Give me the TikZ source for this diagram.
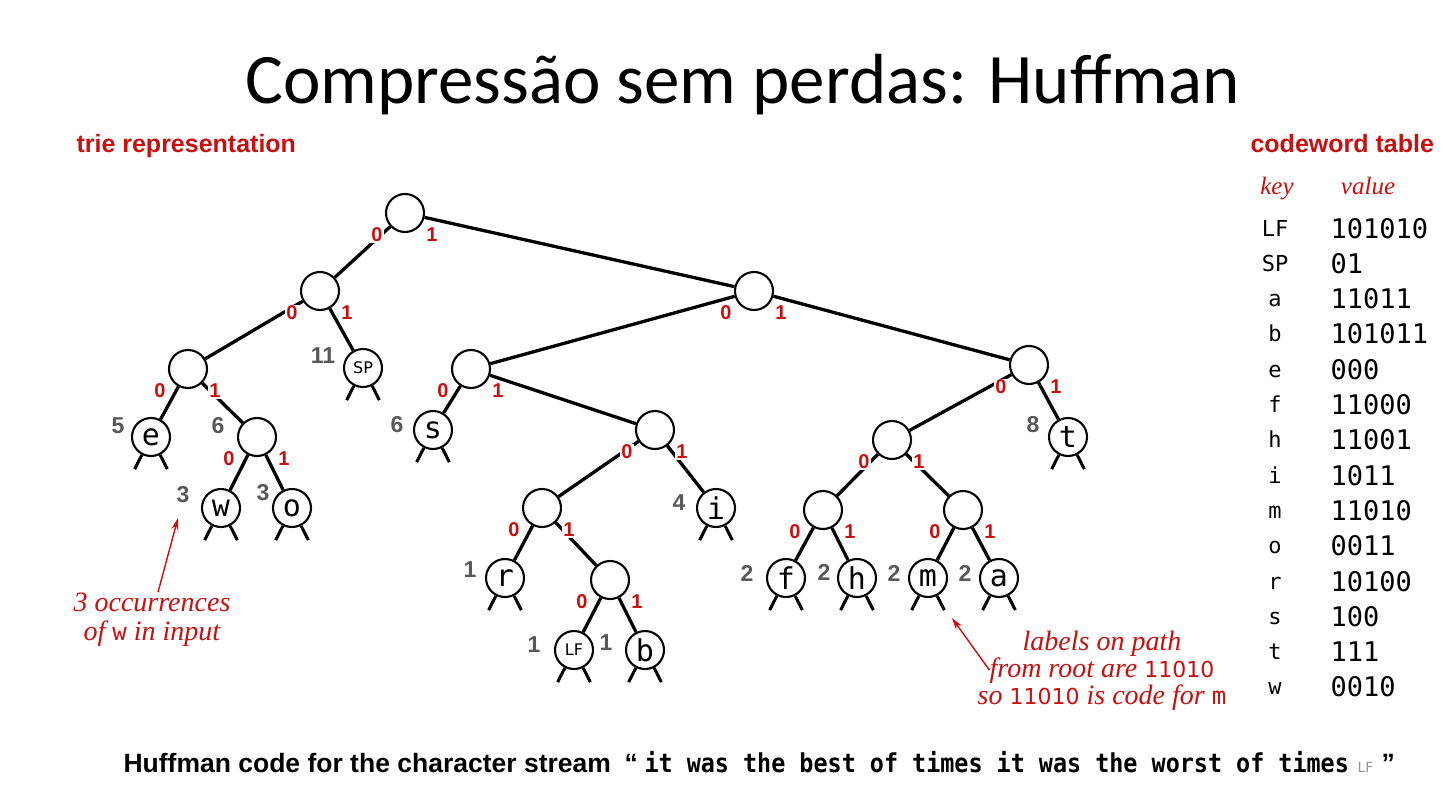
\documentclass[tikz,border=0pt]{standalone}
\usepackage{fontspec}
\setmainfont{Liberation Serif}
\setsansfont{DejaVu Sans}
\setmonofont{DejaVu Sans Mono}
\newfontfamily\titlefont{Carlito}
\newfontfamily\headfont{Liberation Sans}
\newfontfamily\streamfont[FakeStretch=0.9]{DejaVu Sans Mono}
\newfontfamily\bitfont{Liberation Sans}
\newfontfamily\notefont{Liberation Serif}
\usetikzlibrary{arrows.meta}

\definecolor{trired}{RGB}{200,16,16}
\definecolor{wtgray}{RGB}{88,88,88}
\definecolor{lfgray}{RGB}{150,150,150}

\newcommand\fsz[1]{\fontsize{#1}{#1}\selectfont}
% two short stubs under a leaf
\newcommand\legs[1]{%
  \draw[leg] (#1.-117) -- ++(-117:16pt);
  \draw[leg] (#1.-63) -- ++(-63:16pt);}
% 0 / 1 labels under an internal node
\newcommand\bits[1]{%
  \node[bit] (#1-zero) at ([shift={(-28,22)}]#1) {0};
  \node[bit] (#1-one) at ([shift={(27,22)}]#1) {1};}

\begin{document}
\begin{tikzpicture}[x=1pt,y=-1pt,
  knot/.style={circle,draw,line width=2.1pt,minimum size=38pt,inner sep=0pt,fill=white},
  sym/.style={knot,font=\ttfamily\fsz{30}},
  ctl/.style={knot,font=\sffamily\fsz{16}},
  edge/.style={line width=3.3pt},
  leg/.style={line width=3pt},
  bit/.style={font=\bitfont\bfseries\fsz{20},text=trired,fill=white,inner sep=1pt},
  wt/.style={font=\bitfont\bfseries\fsz{23},text=wtgray,inner sep=0pt},
  note/.style={font=\notefont\itshape\fsz{28},text=trired,inner sep=0pt,anchor=base},
  pointer/.style={draw=trired,line width=1.4pt,-{Stealth[length=12pt,width=7pt]}},
]
\useasboundingbox (0,0) rectangle (1455,789);

% heading
\node[font=\titlefont\fsz{71},anchor=base] (title) at (742.5,104) {Compressão sem perdas: Huffman};
\node[font=\headfont\bfseries\fsz{25},text=trired,anchor=base west] (trie) at (73,152) {trie representation};

% internal nodes
\node[knot] (root)   at (405,213) {};
\node[knot] (n0)     at (320,291) {};
\node[knot] (n1)     at (754,291) {};
\node[knot] (n00)    at (188,369) {};
\node[knot] (n001)   at (257,437) {};
\node[knot] (n10)    at (471,369) {};
\node[knot] (n11)    at (1029,365) {};
\node[knot] (n101)   at (655,430) {};
\node[knot] (n1010)  at (542,508) {};
\node[knot] (n10101) at (610,580) {};
\node[knot] (n110)   at (892,440) {};
\node[knot] (n1100)  at (823,510) {};
\node[knot] (n1101)  at (963,510) {};

% leaves
\node[ctl] (LSP) at (363,368) {SP};
\node[sym] (Le)  at (151,437) {e};
\node[sym] (Lw)  at (221,508) {w};
\node[sym] (Lo)  at (292,508) {o};
\node[sym] (Ls)  at (433,430) {s};
\node[sym] (Li)  at (716,508) {i};
\node[sym] (Lr)  at (505,578) {r};
\node[ctl] (LLF) at (574,650) {LF};
\node[sym] (Lb)  at (645,650) {b};
\node[sym] (Lt)  at (1068,437) {t};
\node[sym] (Lf)  at (786,578) {f};
\node[sym] (Lh)  at (857,578) {h};
\node[sym] (Lm)  at (928,578) {m};
\node[sym] (La)  at (999,578) {a};

% links
\foreach \p/\c in {root/n0, root/n1, n0/n00, n0/LSP, n00/Le, n00/n001,
  n001/Lw, n001/Lo, n1/n10, n1/n11, n10/Ls, n10/n101, n101/n1010, n101/Li,
  n1010/Lr, n1010/n10101, n10101/LLF, n10101/Lb, n11/n110, n11/Lt,
  n110/n1100, n110/n1101, n1100/Lf, n1100/Lh, n1101/Lm, n1101/La}
  {\draw[edge] (\p) -- (\c);}

\foreach \l in {LSP, Le, Lw, Lo, Ls, Li, Lr, LLF, Lb, Lt, Lf, Lh, Lm, La}
  {\legs{\l}}

\foreach \n in {root, n0, n1, n00, n001, n10, n11, n101, n1010, n10101, n110, n1100, n1101}
  {\bits{\n}}

% frequencies
\node[wt] (Le-wt)   at ([shift={(-33,-11)}]Le) {5};
\node[wt] (n001-wt) at ([shift={(-39,-11)}]n001) {6};
\node[wt] (LSP-wt)  at ([shift={(-40,-12)}]LSP) {11};
\node[wt] (Ls-wt)   at ([shift={(-36,-5)}]Ls) {6};
\node[wt] (Lt-wt)   at ([shift={(-35,-12)}]Lt) {8};
\node[wt] (Lw-wt)   at ([shift={(-38,-13)}]Lw) {3};
\node[wt] (Lo-wt)   at ([shift={(-29,-15)}]Lo) {3};
\node[wt] (Li-wt)   at ([shift={(-37,-5)}]Li) {4};
\node[wt] (Lr-wt)   at ([shift={(-35,-8)}]Lr) {1};
\node[wt] (LLF-wt)  at ([shift={(-40,-5)}]LLF) {1};
\node[wt] (Lb-wt)   at ([shift={(-39,-7)}]Lb) {1};
\node[wt] (Lf-wt)   at ([shift={(-39,-5)}]Lf) {2};
\node[wt] (Lh-wt)   at ([shift={(-33,-6)}]Lh) {2};
\node[wt] (Lm-wt)   at ([shift={(-34,-5)}]Lm) {2};
\node[wt] (La-wt)   at ([shift={(-34,-5)}]La) {2};

% callouts
\node[note] (occ1) at (152,611) {3 occurrences};
\node[note] (occ2) at (152,640) {of {\upshape\ttfamily\fsz{24}w} in input};
\coordinate (occtip) at (178,518);
\draw[pointer] ([xshift=6pt]occ1.north) -- (occtip);

\node[note] (path1) at (1102,650) {labels on path};
\node[note] (path2) at (1102,677) {from root are {\upshape\sffamily\fsz{22}11010}};
\node[note] (path3) at (1102,704) {so {\upshape\sffamily\fsz{22}11010} is code for {\upshape\ttfamily\fsz{24}m}};
\coordinate (pathtip) at (952,618);
\draw[pointer] (path2.west) -- (pathtip);

% codeword table
\node[font=\headfont\bfseries\fsz{25},text=trired,anchor=base west] (cwt) at (1247,152) {codeword table};
\node[font=\notefont\itshape\fsz{25},text=trired,anchor=base] (keyh) at (1277,194) {key};
\node[font=\notefont\itshape\fsz{25},text=trired,anchor=base] (valh) at (1368,194) {value};
\foreach \k/\v [count=\j] in {LF/101010, SP/01, a/11011, b/101011, e/000,
  f/11000, h/11001, i/1011, m/11010, o/0011, r/10100, s/100, t/111, w/0010} {
  \node[font=\ttfamily\fsz{22},anchor=base] (key\j) at (1275,{228+35.3*(\j-1)+8}) {\k};
  \node[font=\ttfamily\fsz{27},anchor=base west] (val\j) at (1327,{228+35.3*(\j-1)+10}) {\v};
}

% caption
\node[font=\headfont\bfseries\fsz{26.5},anchor=base west] (cap) at (120,772) {Huffman code for the character stream};
\node[font=\headfont\bfseries\fsz{26.5},anchor=base west] (qopen) at (621,772) {“};
\node[font=\streamfont\bfseries\fsz{26},anchor=base west] (stream) at (641,772) {it was the best of times it was the worst of times};
\node[font=\sffamily\fsz{14},text=lfgray,anchor=base west] (lf) at (1354,772) {LF};
\node[font=\headfont\bfseries\fsz{26.5},anchor=base west] (qclose) at (1378,772) {”};
\end{tikzpicture}
\end{document}
